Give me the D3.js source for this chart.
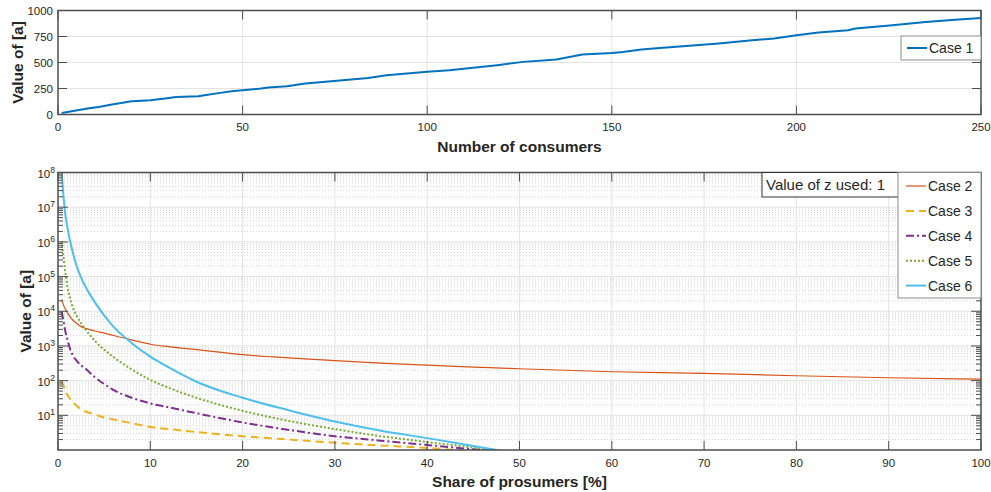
<!DOCTYPE html>
<html>
<head>
<meta charset="utf-8">
<script src="https://cdn.jsdelivr.net/npm/d3@7"></script>
<style>
  body { margin: 0; background: #fff; }
  text { font-family: "Liberation Sans", Arial, sans-serif; fill: #262626; }
</style>
</head>
<body>
<svg id="chart" width="991" height="492"></svg>
<script>
// ---- top panel data (Case 1) ----
const consumers = [1, 8, 11, 15, 20, 25, 29, 32, 38, 41, 44, 47, 50, 55, 57, 62, 67, 74, 84, 89,
  100, 106, 115, 119, 126, 135, 142, 150, 153, 158, 163, 171, 179, 188, 194, 200, 206, 214, 216,
  226, 235, 243, 250];
const case1 = [15, 58, 73, 99, 128, 138, 154, 169, 176, 192, 208, 224, 234, 250, 260, 272, 298, 320,
  352, 378, 410, 426, 458, 474, 506, 529, 577, 592, 602, 625, 640, 660, 683, 714, 731, 762, 788,
  810, 827, 859, 890, 910, 929];

// ---- bottom panel data ----
const share = [0.4, 0.6, 0.8, 1, 1.3, 1.6, 2, 2.5, 3, 4, 5, 6, 8, 10, 12, 15, 20, 25, 30, 35, 40,
  45, 48, 50, 60, 70, 80, 90, 100];
const case2 = [22000, 15000, 11500, 9300, 7000, 5600, 4500, 3600, 3200, 2700, 2350, 2000, 1500,
  1120, 950, 780, 560, 450, 375, 320, 280, 245, 230, 220, 180, 162, 138, 121, 110];
const case3 = [100, 70, 50, 40, 30, 24, 19, 15, 12.9, 10.5, 8.7, 7.6, 5.9, 4.6, 4.0, 3.3, 2.5, 2.0,
  1.62, 1.35, 1.15, 0.9, null, null, null, null, null, null, null];
const case4 = [10000, 5000, 2600, 1600, 830, 540, 380, 275, 219, 125, 80, 54, 32, 22, 17, 11.5,
  6.2, 3.8, 2.5, 1.86, 1.4, 1.05, 0.9, null, null, null, null, null, null];
const case5 = [1050000, 350000, 130000, 56000, 24000, 13000, 7600, 4500, 2950, 1400, 780, 480, 210,
  105, 62, 32, 13.5, 6.9, 4.0, 2.5, 1.7, 1.17, 0.93, null, null, null, null, null, null];
const case6 = [100000000, 20000000, 6000000, 2800000, 1100000, 500000, 210000, 93000, 50000, 18000,
  7600, 3600, 1200, 490, 240, 93, 32, 14, 6.6, 3.6, 2.2, 1.3, 0.95, null, null, null, null, null, null];

const seriesNames = ['Case 2', 'Case 3', 'Case 4', 'Case 5', 'Case 6'];
const seriesValues = [case2, case3, case4, case5, case6];
const seriesColors = ['#D95319', '#EDB120', '#7E2F8E', '#77AC30', '#4DBEEE'];
const seriesDash = [null, '8,5', '8,3,2,3', '2,2', null];
const seriesWidth = [1.2, 2, 2, 2, 2];

const xTicksTop = [0, 50, 100, 150, 200, 250];
const yTicksTop = [0, 250, 500, 750, 1000];
const xTicksBottom = d3.range(0, 101, 10);
const yDecades = [1, 2, 3, 4, 5, 6, 7, 8];

const svg = d3.select('#chart');
const gridCol = '#e3e3e3';
const axisCol = '#4d4d4d';
const tickFont = 11.5;
const labelFont = 15.5;

// ================= TOP PANEL =================
const boxT = { l: 58, r: 981, t: 10.5, b: 114.5 };
const xTop = d3.scaleLinear().domain([0, 250]).range([boxT.l, boxT.r]);
const yTop = d3.scaleLinear().domain([0, 1000]).range([boxT.b, boxT.t]);

const gTop = svg.append('g');
gTop.selectAll('.vg').data(xTicksTop.slice(1, -1)).join('line')
  .attr('x1', d => xTop(d)).attr('x2', d => xTop(d))
  .attr('y1', boxT.t).attr('y2', boxT.b)
  .attr('stroke', gridCol).attr('stroke-width', 1);
gTop.selectAll('.hg').data(yTicksTop.slice(1, -1)).join('line')
  .attr('x1', boxT.l).attr('x2', boxT.r)
  .attr('y1', d => yTop(d)).attr('y2', d => yTop(d))
  .attr('stroke', gridCol).attr('stroke-width', 1);

gTop.append('path')
  .datum(consumers.map((c, i) => [c, case1[i]]))
  .attr('fill', 'none').attr('stroke', '#0072BD').attr('stroke-width', 2)
  .attr('d', d3.line().x(d => xTop(d[0])).y(d => yTop(d[1])));

// ticks inside, both sides
xTicksTop.forEach(t => {
  gTop.append('line').attr('x1', xTop(t)).attr('x2', xTop(t)).attr('y1', boxT.b).attr('y2', boxT.b - 9)
    .attr('stroke', axisCol);
  gTop.append('line').attr('x1', xTop(t)).attr('x2', xTop(t)).attr('y1', boxT.t).attr('y2', boxT.t + 9)
    .attr('stroke', axisCol);
  gTop.append('text').attr('x', xTop(t)).attr('y', 131).attr('text-anchor', 'middle')
    .attr('font-size', tickFont).text(t);
});
yTicksTop.forEach(t => {
  gTop.append('line').attr('x1', boxT.l).attr('x2', boxT.l + 9).attr('y1', yTop(t)).attr('y2', yTop(t))
    .attr('stroke', axisCol);
  gTop.append('line').attr('x1', boxT.r).attr('x2', boxT.r - 9).attr('y1', yTop(t)).attr('y2', yTop(t))
    .attr('stroke', axisCol);
  gTop.append('text').attr('x', 53).attr('y', yTop(t) + 4).attr('text-anchor', 'end')
    .attr('font-size', tickFont).text(t);
});
gTop.append('rect').attr('x', boxT.l).attr('y', boxT.t).attr('width', boxT.r - boxT.l).attr('height', boxT.b - boxT.t)
  .attr('fill', 'none').attr('stroke', axisCol).attr('stroke-width', 1.5);

gTop.append('text').attr('x', (boxT.l + boxT.r) / 2).attr('y', 152).attr('text-anchor', 'middle')
  .attr('font-size', labelFont).attr('font-weight', 'bold').text('Number of consumers');
gTop.append('text').attr('transform', `translate(23,${(boxT.t + boxT.b) / 2}) rotate(-90)`)
  .attr('text-anchor', 'middle').attr('font-size', labelFont).attr('font-weight', 'bold').text('Value of [a]');

// legend top
const lgTop = gTop.append('g');
lgTop.append('rect').attr('x', 901).attr('y', 36).attr('width', 80).attr('height', 24)
  .attr('fill', '#fff').attr('stroke', '#8c8c8c').attr('stroke-width', 1);
lgTop.append('line').attr('x1', 907).attr('x2', 927).attr('y1', 48).attr('y2', 48)
  .attr('stroke', '#0072BD').attr('stroke-width', 2);
lgTop.append('text').attr('x', 929).attr('y', 53).attr('font-size', 14).text('Case 1');

// ================= BOTTOM PANEL =================
const boxB = { l: 58, r: 981, t: 172.5, b: 450 };
const xBot = d3.scaleLinear().domain([0, 100]).range([boxB.l, boxB.r]);
const yBot = d3.scaleLog().domain([1.0, 1e8]).range([boxB.b, boxB.t]);

const gBot = svg.append('g');
svg.append('clipPath').attr('id', 'clipB').append('rect')
  .attr('x', boxB.l).attr('y', boxB.t).attr('width', boxB.r - boxB.l).attr('height', boxB.b - boxB.t);

// minor grid (dotted)
const minors = [];
for (let e = 0; e < 8; e++) for (let m = 2; m <= 9; m++) minors.push(m * Math.pow(10, e));
gBot.selectAll('.mg').data(minors).join('line')
  .attr('x1', boxB.l).attr('x2', boxB.r)
  .attr('y1', d => yBot(d)).attr('y2', d => yBot(d))
  .attr('stroke', '#d6d6d6').attr('stroke-width', 1).attr('stroke-dasharray', '1,2');
gBot.selectAll('.vgb').data(xTicksBottom.slice(1, -1)).join('line')
  .attr('x1', d => xBot(d)).attr('x2', d => xBot(d))
  .attr('y1', boxB.t).attr('y2', boxB.b)
  .attr('stroke', gridCol).attr('stroke-width', 1);
gBot.selectAll('.hgb').data(yDecades.slice(0, -1)).join('line')
  .attr('x1', boxB.l).attr('x2', boxB.r)
  .attr('y1', d => yBot(Math.pow(10, d))).attr('y2', d => yBot(Math.pow(10, d)))
  .attr('stroke', gridCol).attr('stroke-width', 1);

const lineB = d3.line()
  .defined(d => d[1] != null)
  .x(d => xBot(d[0])).y(d => yBot(d[1]))
  .curve(d3.curveMonotoneX);

const gLines = gBot.append('g').attr('clip-path', 'url(#clipB)');
seriesValues.forEach((vals, i) => {
  gLines.append('path')
    .datum(share.map((s, j) => [s, vals[j]]))
    .attr('fill', 'none')
    .attr('stroke', seriesColors[i])
    .attr('stroke-width', seriesWidth[i])
    .attr('stroke-dasharray', seriesDash[i])
    .attr('d', lineB);
});

// ticks
xTicksBottom.forEach(t => {
  gBot.append('line').attr('x1', xBot(t)).attr('x2', xBot(t)).attr('y1', boxB.b).attr('y2', boxB.b - 9)
    .attr('stroke', axisCol);
  gBot.append('line').attr('x1', xBot(t)).attr('x2', xBot(t)).attr('y1', boxB.t).attr('y2', boxB.t + 9)
    .attr('stroke', axisCol);
  gBot.append('text').attr('x', xBot(t)).attr('y', 467).attr('text-anchor', 'middle')
    .attr('font-size', tickFont).text(t);
});
minors.forEach(m => {
  const y = yBot(m);
  gBot.append('line').attr('x1', boxB.l).attr('x2', boxB.l + 5).attr('y1', y).attr('y2', y).attr('stroke', axisCol);
  gBot.append('line').attr('x1', boxB.r).attr('x2', boxB.r - 5).attr('y1', y).attr('y2', y).attr('stroke', axisCol);
});
yDecades.forEach(e => {
  const y = yBot(Math.pow(10, e));
  gBot.append('line').attr('x1', boxB.l).attr('x2', boxB.l + 10).attr('y1', y).attr('y2', y).attr('stroke', axisCol);
  gBot.append('line').attr('x1', boxB.r).attr('x2', boxB.r - 10).attr('y1', y).attr('y2', y).attr('stroke', axisCol);
  const t = gBot.append('text').attr('x', 55).attr('y', y + 5).attr('text-anchor', 'end').attr('font-size', tickFont);
  t.append('tspan').text('10');
  t.append('tspan').attr('dy', -5).attr('font-size', 8.5).text(e);
});
gBot.append('rect').attr('x', boxB.l).attr('y', boxB.t).attr('width', boxB.r - boxB.l).attr('height', boxB.b - boxB.t)
  .attr('fill', 'none').attr('stroke', axisCol).attr('stroke-width', 1.5);

gBot.append('text').attr('x', (boxB.l + boxB.r) / 2).attr('y', 487).attr('text-anchor', 'middle')
  .attr('font-size', labelFont).attr('font-weight', 'bold').text('Share of prosumers [%]');
gBot.append('text').attr('transform', `translate(31,${(boxB.t + boxB.b) / 2}) rotate(-90)`)
  .attr('text-anchor', 'middle').attr('font-size', labelFont).attr('font-weight', 'bold').text('Value of [a]');

// annotation
gBot.append('rect').attr('x', 762).attr('y', boxB.t).attr('width', 137).attr('height', 24.5)
  .attr('fill', '#fff').attr('stroke', '#333').attr('stroke-width', 1);
gBot.append('text').attr('x', 766).attr('y', 190).attr('font-size', 15).text('Value of z used: 1');

// legend bottom
const lgBot = gBot.append('g');
lgBot.append('rect').attr('x', 898).attr('y', boxB.t).attr('width', 83).attr('height', 125.5)
  .attr('fill', '#fff').attr('stroke', '#8c8c8c').attr('stroke-width', 1);
seriesNames.forEach((n, i) => {
  const y = 186 + i * 24.9;
  lgBot.append('line').attr('x1', 906).attr('x2', 926).attr('y1', y).attr('y2', y)
    .attr('stroke', seriesColors[i]).attr('stroke-width', seriesWidth[i])
    .attr('stroke-dasharray', seriesDash[i]);
  lgBot.append('text').attr('x', 928).attr('y', y + 5).attr('font-size', 14).text(n);
});
</script>
</body>
</html>
